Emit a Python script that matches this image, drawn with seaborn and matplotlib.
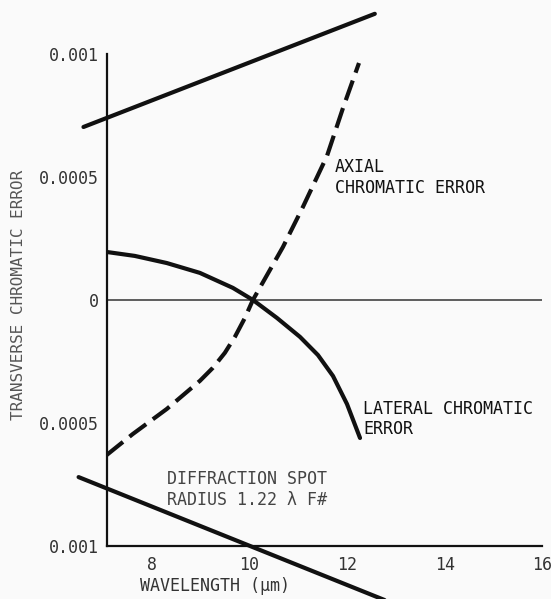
import matplotlib
matplotlib.use("Agg")
import matplotlib.pyplot as plt
import seaborn as sns
import pandas as pd

# Wavelength (um) and transverse error values for each curve
diff_upper_x = [6.60, 12.57]
diff_upper_y = [0.000703, 0.001163]
diff_lower_x = [6.50, 12.90]
diff_lower_y = [-0.000720, -0.001230]

axial_x = [7.077, 7.610, 8.308, 8.985, 9.251, 9.497, 9.703, 9.908, 10.072,
           10.421, 10.687, 11.097, 11.590, 11.918, 12.246]
axial_y = [-0.000630, -0.000545, -0.000443, -0.000329, -0.000276, -0.000215,
           -0.000150, -0.000073, 0.0, 0.000122, 0.000215, 0.000378, 0.000585,
           0.000780, 0.000963]

lateral_x = [7.077, 7.651, 8.308, 8.985, 9.662, 10.072, 10.564, 11.036,
             11.405, 11.713, 12.000, 12.267]
lateral_y = [0.000195, 0.000179, 0.000150, 0.000110, 0.000049, 0.0,
             -0.000073, -0.000150, -0.000224, -0.000309, -0.000423, -0.000561]

x_ticks = [8, 10, 12, 14, 16]
y_ticks = [-0.001, -0.0005, 0, 0.0005, 0.001]
y_tick_labels = ["0.001", "0.0005", "0", "0.0005", "0.001"]

sns.set_theme(style="white")
plt.rcParams["font.family"] = ["DejaVu Sans Mono", "DejaVu Sans"]

fig = plt.figure(figsize=(5.51, 5.99), dpi=100, facecolor="#fafafa")
ax = fig.add_axes([0.194, 0.0885, 0.790, 0.8215])
ax.set_facecolor("#fafafa")

ink = "#111111"
thick = 3.0
line_kw = dict(color=ink, lw=thick, solid_joinstyle="round", solid_capstyle="round")

sns.lineplot(data=pd.DataFrame({"x": diff_upper_x, "y": diff_upper_y}), x="x", y="y",
             ax=ax, clip_on=False, **line_kw)
sns.lineplot(data=pd.DataFrame({"x": diff_lower_x, "y": diff_lower_y}), x="x", y="y",
             ax=ax, clip_on=False, **line_kw)
sns.lineplot(data=pd.DataFrame({"x": lateral_x, "y": lateral_y}), x="x", y="y",
             ax=ax, **line_kw)
sns.lineplot(data=pd.DataFrame({"x": axial_x, "y": axial_y}), x="x", y="y",
             ax=ax, color=ink, lw=thick, linestyle=(0, (5.0, 2.0)),
             dash_joinstyle="round")

ax.axhline(0, color="#333333", lw=1.1, zorder=1)

ax.set_xlim(7.08, 16)
ax.set_ylim(-0.001, 0.001)
ax.set_xticks(x_ticks)
ax.set_xticklabels([str(t) for t in x_ticks])
ax.set_yticks(y_ticks)
ax.set_yticklabels(y_tick_labels)

for side in ("top", "right"):
    ax.spines[side].set_visible(False)
for side in ("left", "bottom"):
    ax.spines[side].set_color(ink)
    ax.spines[side].set_linewidth(1.6)

ax.tick_params(axis="x", direction="in", length=9, width=1.6, color=ink,
               labelsize=12, labelcolor="#333333", pad=7)
ax.tick_params(axis="y", direction="in", length=13, width=1.6, color=ink,
               labelsize=12, labelcolor="#333333", pad=6)

ax.set_xlabel("WAVELENGTH (μm)", fontsize=12, color="#333333")
ax.xaxis.set_label_coords(0.248, -0.064)
ax.set_ylabel("TRANSVERSE CHROMATIC ERROR", fontsize=11.5, color="#555555")
ax.yaxis.set_label_coords(-0.186, 0.51)

ax.text(11.75, 0.000575, "AXIAL\nCHROMATIC ERROR", fontsize=12, color=ink,
        ha="left", va="top", linespacing=1.15)
ax.text(12.33, -0.000405, "LATERAL CHROMATIC\nERROR", fontsize=12, color=ink,
        ha="left", va="top", linespacing=1.15)
ax.text(8.31, -0.000690, "DIFFRACTION SPOT\nRADIUS 1.22 λ F#", fontsize=12,
        color="#444444", ha="left", va="top", linespacing=1.2)

fig.savefig("out.png", dpi=100, facecolor=fig.get_facecolor())
